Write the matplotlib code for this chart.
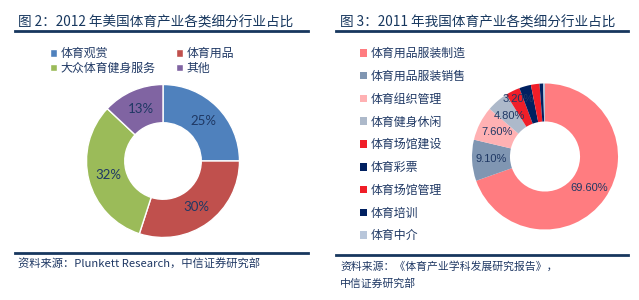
import matplotlib
matplotlib.use("Agg")
import matplotlib.pyplot as plt
from matplotlib.lines import Line2D

plt.rcParams["font.family"] = ["Noto Sans CJK SC", "DejaVu Sans"]

NAVY = "#1F3864"
LINE = "#17375E"

# 图2 数据
us_labels = ["体育观赏", "体育用品", "大众体育健身服务", "其他"]
us_values = [25, 30, 32, 13]
us_colors = ["#4F81BD", "#C0504D", "#9BBB59", "#8064A2"]

# 图3 数据
cn_labels = ["体育用品服装制造", "体育用品服装销售", "体育组织管理", "体育健身休闲",
             "体育场馆建设", "体育彩票", "体育场馆管理", "体育培训", "体育中介"]
cn_values = [69.6, 9.1, 7.6, 4.8, 3.2, 2.6, 1.9, 0.8, 0.4]
cn_colors = ["#FF7C80", "#8096B2", "#FFB1B3", "#ADB9CA", "#F01E28",
             "#002060", "#F01E28", "#002060", "#B8C6DA"]

W, H = 639, 300
fig = plt.figure(figsize=(W / 100, H / 100), dpi=100, facecolor="white")


def px_axes(cx, cy, r):
    return fig.add_axes([(cx - r) / W, (H - cy - r) / H, 2 * r / W, 2 * r / H])


# ---- 左图 ----
fig.text(18 / W, 1 - 22 / H, "图 2：2012 年美国体育产业各类细分行业占比",
         fontsize=9.8, color=LINE, va="center", ha="left")
fig.add_artist(Line2D([15 / W, 308 / W], [1 - 31 / H] * 2, color=LINE, lw=2))

ax1 = px_axes(163, 161, 76.5)
w1, _, t1 = ax1.pie(us_values, colors=us_colors, startangle=90, counterclock=False,
                    radius=1, autopct="%d%%", pctdistance=0.74,
                    wedgeprops=dict(width=0.5, edgecolor="white", linewidth=1))
for t in t1:
    t.set_fontsize(9.5)
    t.set_color(NAVY)
    t.set_family(["Lato", "DejaVu Sans"])
ax1.set_xlim(-1, 1)
ax1.set_ylim(-1, 1)
ax1.set_aspect("auto")
ax1.axis("off")

# 图例按行排列：legend 是按列填充的，所以重新排序
order = [0, 2, 1, 3]
fig.legend([w1[i] for i in order], [us_labels[i] for i in order],
           ncol=2, loc="upper left",
           bbox_to_anchor=(50 / W, 1 - 47 / H), frameon=False, fontsize=8.6,
           handlelength=0.6, handleheight=0.6, handletextpad=0.3,
           columnspacing=1.7, labelspacing=0.15, borderpad=0, borderaxespad=0,
           labelcolor=NAVY)

fig.add_artist(Line2D([15 / W, 308 / W], [1 - 253 / H] * 2, color=LINE, lw=2))
fig.text(18 / W, 1 - 264 / H, "资料来源：Plunkett Research，中信证券研究部",
         fontsize=8.1, color=NAVY, va="center", ha="left")

# ---- 右图 ----
fig.text(340 / W, 1 - 22 / H, "图 3：2011 年我国体育产业各类细分行业占比",
         fontsize=9.8, color=LINE, va="center", ha="left")
fig.add_artist(Line2D([336 / W, 628 / W], [1 - 31 / H] * 2, color=LINE, lw=2))

ax2 = px_axes(545, 156.5, 73)
w2, _, t2 = ax2.pie(cn_values, colors=cn_colors, startangle=90, counterclock=False,
                    radius=1, autopct=lambda p: f"{p:.2f}%" if p >= 3 else "",
                    pctdistance=0.74,
                    wedgeprops=dict(width=0.52, linewidth=0))
for t in t2:
    t.set_fontsize(8)
    t.set_color(NAVY)
    t.set_family(["Liberation Sans", "DejaVu Sans"])
# 3.20% 标签稍微外移，避免和 4.80% 重叠
x, y = t2[4].get_position()
t2[4].set_position((x * 1.12, y * 1.18))
ax2.set_xlim(-1, 1)
ax2.set_ylim(-1, 1)
ax2.set_aspect("auto")
ax2.axis("off")

fig.legend(w2, cn_labels, ncol=1, loc="upper left",
           bbox_to_anchor=(360 / W, 1 - 47 / H), frameon=False, fontsize=8.6,
           handlelength=0.6, handleheight=0.6, handletextpad=0.3,
           labelspacing=0.82, borderpad=0, borderaxespad=0, labelcolor=NAVY)

fig.add_artist(Line2D([336 / W, 628 / W], [1 - 255 / H] * 2, color=LINE, lw=2))
fig.text(340 / W, 1 - 266 / H, "资料来源：《体育产业学科发展研究报告》，",
         fontsize=7.8, color=NAVY, va="center", ha="left")
fig.text(340 / W, 1 - 283 / H, "中信证券研究部",
         fontsize=7.8, color=NAVY, va="center", ha="left")

fig.savefig("out.png", dpi=100, facecolor="white")
